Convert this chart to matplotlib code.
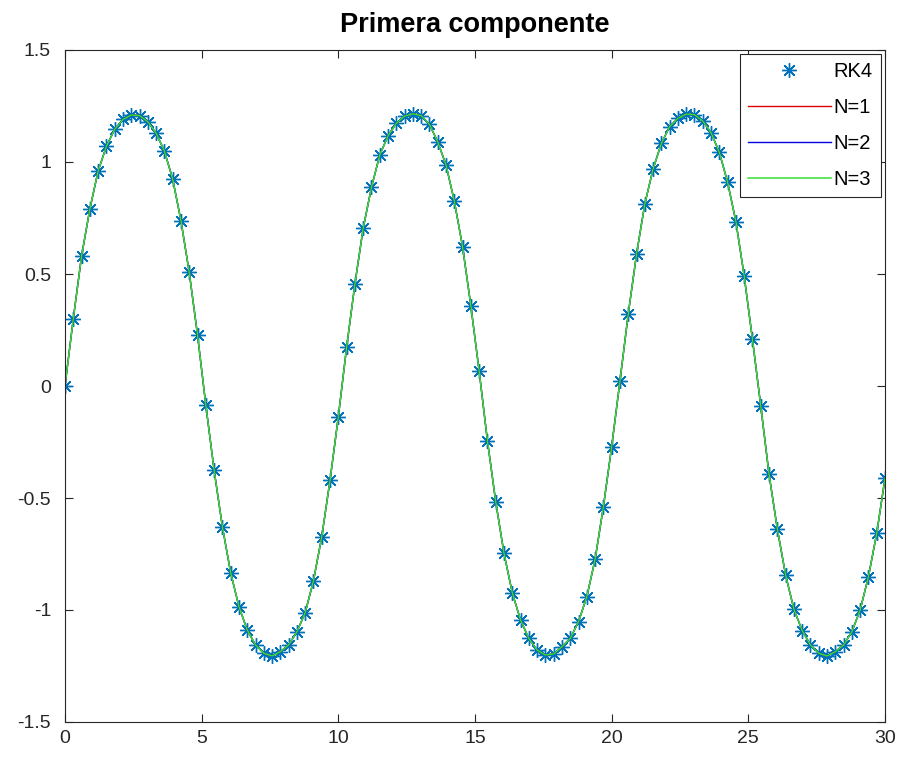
import numpy as np
import matplotlib
matplotlib.use("Agg")
import matplotlib.pyplot as plt

plt.rcParams['font.family'] = ['Liberation Sans', 'DejaVu Sans']

# Time grid: 100 samples on [0, 30]
t = np.linspace(0, 30, 100)

# First component of the RK4 solution
rk4 = [
    0.00, 0.30, 0.58, 0.79, 0.96, 1.07, 1.146, 1.19, 1.21, 1.207,
    1.18, 1.128, 1.049, 0.924, 0.738, 0.507, 0.228, -0.085, -0.375, -0.628,
    -0.833, -0.985, -1.089, -1.156, -1.193, -1.205, -1.186, -1.156, -1.097, -1.012,
    -0.869, -0.673, -0.42, -0.137, 0.173, 0.455, 0.704, 0.887, 1.031, 1.117,
    1.173, 1.205, 1.215, 1.207, 1.168, 1.09, 0.987, 0.826, 0.622, 0.358,
    0.067, -0.244, -0.516, -0.747, -0.923, -1.045, -1.127, -1.179, -1.201, -1.196,
    -1.164, -1.127, -1.052, -0.941, -0.774, -0.539, -0.271, 0.022, 0.321, 0.588,
    0.8125, 0.969, 1.083, 1.158, 1.195, 1.214, 1.211, 1.183, 1.131, 1.043,
    0.909, 0.734, 0.491, 0.208, -0.089, -0.394, -0.638, -0.844, -0.996, -1.092,
    -1.156, -1.193, -1.205, -1.186, -1.156, -1.097, -1.0, -0.851, -0.658, -0.412,
]

# Approximations of order N = 1, 2, 3 (indistinguishable from RK4 at this scale)
approx_n1 = list(rk4)
approx_n2 = list(rk4)
approx_n3 = list(rk4)

series_labels = ['RK4', 'N=1', 'N=2', 'N=3']
xticks = [0, 5, 10, 15, 20, 25, 30]
yticks = [-1.5, -1, -0.5, 0, 0.5, 1, 1.5]
ytick_labels = ['-1.5', '-1', '-0.5', '0', '0.5', '1', '1.5']

W, H, DPI = 903, 766, 100
fig = plt.figure(figsize=(W / DPI, H / DPI), dpi=DPI, facecolor='white')
ax = fig.add_axes([65 / W, 1 - 722 / H, (885 - 65) / W, (722 - 50) / H])

axis_col = '#262626'

ax.plot(t, rk4, linestyle='none', marker=(8, 2, 0), markersize=10.5,
        markeredgewidth=1.0, color='#0072BD', label=series_labels[0])
ax.plot(t, approx_n1, color='#e00000', lw=1.0, label=series_labels[1])
ax.plot(t, approx_n2, color='#0000dd', lw=1.0, label=series_labels[2])
ax.plot(t, approx_n3, color='#33e033', lw=1.1, label=series_labels[3])

ax.set_xlim(0, 30)
ax.set_ylim(-1.5, 1.5)
ax.set_xticks(xticks)
ax.set_xticklabels([str(v) for v in xticks])
ax.set_yticks(yticks)
ax.set_yticklabels(ytick_labels)

ax.tick_params(direction='in', length=6, width=0.8, top=True, right=True,
               colors=axis_col, labelsize=14)
ax.tick_params(axis='y', pad=10)
ax.tick_params(axis='x', pad=6)
for s in ax.spines.values():
    s.set_color(axis_col)
    s.set_linewidth(0.8)

ax.set_title('Primera componente', fontsize=19.5, fontweight='bold',
             color='black', pad=13)

leg = ax.legend(loc='upper right', fontsize=14.5, frameon=True, fancybox=False,
                edgecolor=axis_col, framealpha=1, handlelength=4.1,
                handletextpad=0.15, labelspacing=0.85, borderpad=0.4,
                borderaxespad=0.2, markerfirst=True)
leg.get_frame().set_linewidth(0.8)

fig.savefig('out.png', dpi=DPI, facecolor='white')
